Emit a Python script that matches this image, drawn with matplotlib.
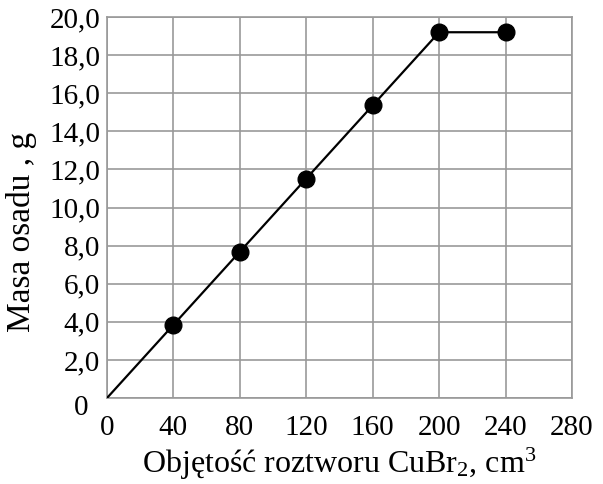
import matplotlib
matplotlib.use("Agg")
import matplotlib.pyplot as plt
import matplotlib.transforms as mtransforms

volume = [0, 40, 80, 120, 160, 200, 240]
mass = [0, 3.84, 7.68, 11.52, 15.36, 19.2, 19.2]
marker_x = [40, 80, 120, 160, 200, 240]
marker_y = [3.84, 7.68, 11.52, 15.36, 19.2, 19.2]
x_ticks = [0, 40, 80, 120, 160, 200, 240, 280]
y_ticks = [0, 2, 4, 6, 8, 10, 12, 14, 16, 18, 20]
y_labels = ["0", "2,0", "4,0", "6,0", "8,0", "10,0", "12,0", "14,0", "16,0", "18,0", "20,0"]

plt.rcParams['font.family'] = ['Liberation Serif', 'DejaVu Serif']
plt.rcParams['mathtext.fontset'] = 'custom'
plt.rcParams['mathtext.rm'] = 'Liberation Serif'
plt.rcParams['mathtext.it'] = 'Liberation Serif:italic'
plt.rcParams['mathtext.bf'] = 'Liberation Serif:bold'

fig = plt.figure(figsize=(6.03, 4.84), dpi=100)
ax = fig.add_axes([107/603, 1 - 398/484, 465/603, 381/484])

ax.plot(volume, mass, color='black', lw=1.6, zorder=3)
ax.plot(marker_x, marker_y, 'o', color='black', ms=12, zorder=4, clip_on=False)

ax.set_xlim(0, 280)
ax.set_ylim(0, 20)
ax.set_xticks(x_ticks)
ax.set_yticks(y_ticks)
ax.set_yticklabels(y_labels)
ax.grid(True, color='#999999', lw=1.2)
ax.set_axisbelow(True)
for s in ax.spines.values():
    s.set_color('#999999')
    s.set_linewidth(1.2)
ax.tick_params(length=0, labelsize=21)
ax.tick_params(axis='y', pad=5)
ax.tick_params(axis='x', pad=12)
ax.set_xlabel(r"Objętość roztworu CuBr$_\mathrm{2}$, cm$^\mathrm{3}$", fontsize=23, labelpad=4)
ax.set_ylabel("Masa osadu , g", fontsize=24)
ax.yaxis.set_label_coords(-0.15, 0.436)

# y "0" label sits slightly lower-left in the reference
lbl0 = ax.get_yticklabels()[0]
lbl0.set_transform(lbl0.get_transform() + mtransforms.ScaledTranslation(-12/100, -7/100, fig.dpi_scale_trans))

fig.savefig("out.png", dpi=100)
